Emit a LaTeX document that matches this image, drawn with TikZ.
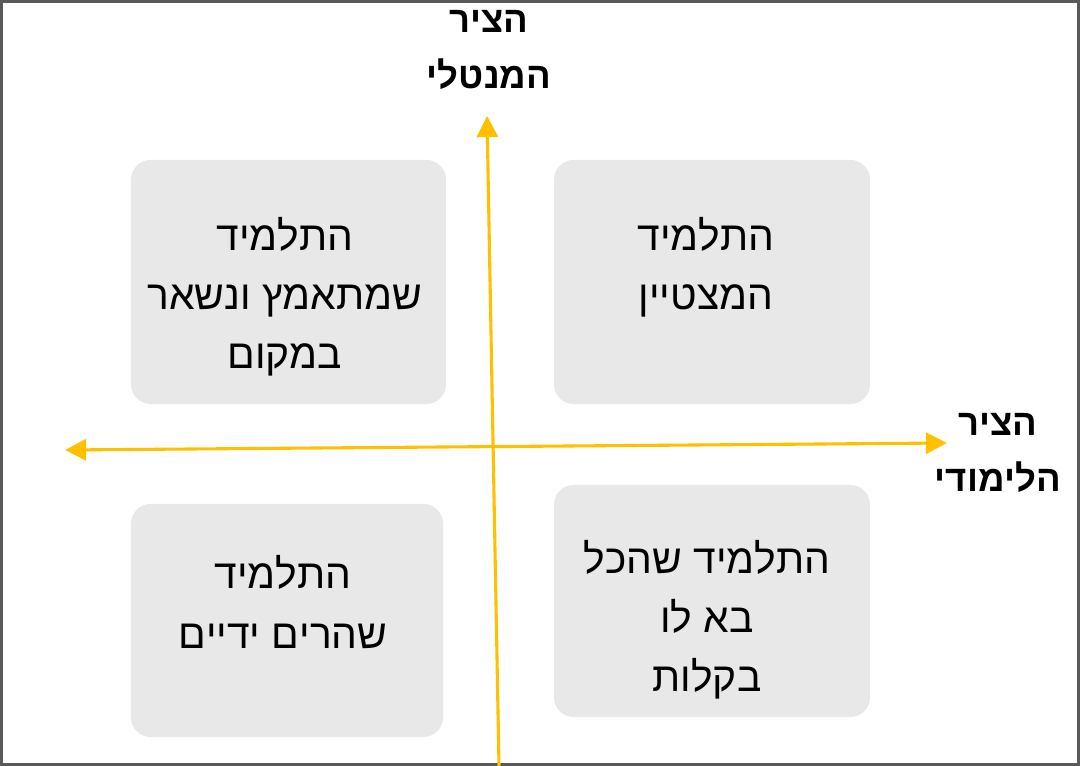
\documentclass[tikz,border=0pt]{standalone}
\usepackage{fontspec}
\setmainfont{Liberation Sans}
\TeXXeTstate=1
\usetikzlibrary{arrows.meta}
\newcommand{\heb}[1]{\beginR#1\endR}
\definecolor{axisyellow}{HTML}{FFC000}
\definecolor{cellgray}{HTML}{E8E8E8}
\definecolor{framegray}{HTML}{595959}

\begin{document}
\begin{tikzpicture}[x=0.025cm, y=-0.025cm]

	% --- Stili ---
	\tikzset{
		cell/.style={draw=none, fill=cellgray, rounded corners=14pt, inner sep=0pt},
		celltext/.style={align=center, inner sep=0pt, font=\fontsize{29}{42}\selectfont},
		axislabel/.style={align=center, inner sep=0pt, font=\fontsize{26}{40}\selectfont\bfseries},
		axis/.style={draw=axisyellow, line width=2.2pt, -{Triangle[length=15pt, width=15pt]}},
		bothaxis/.style={axis, {Triangle[length=15pt, width=15pt]}-{Triangle[length=15pt, width=15pt]}}
	}

	% --- Cornice ---
	\useasboundingbox (0,0) rectangle (1080,766);
	\draw[framegray, line width=2.2pt] (1.5,1.5) rectangle (1078.5,764.5);

	% --- Riquadri ---
	\node[cell, minimum width=7.875cm, minimum height=6.1cm] (topleft) at (288.5,282) {};
	\node[cell, minimum width=7.9cm, minimum height=6.1cm] (topright) at (712,282) {};
	\node[cell, minimum width=7.8cm, minimum height=5.825cm] (bottomleft) at (287,620.5) {};
	\node[cell, minimum width=7.9cm, minimum height=5.8cm] (bottomright) at (712,601) {};

	% --- Testi dei riquadri ---
	\node[celltext] (topleftText) at (285,297) {\heb{התלמיד}\\\heb{שמתאמץ ונשאר}\\\heb{במקום}};
	\node[celltext] (toprightText) at (706,267) {\heb{התלמיד}\\\heb{המצטיין}};
	\node[celltext] (bottomleftText) at (283,602) {\heb{התלמיד}\\\heb{שהרים ידיים}};
	\node[celltext] (bottomrightText) at (707,620) {\heb{התלמיד שהכל}\\\heb{בא לו}\\\heb{בקלות}};

	% --- Assi ---
	\coordinate (vBottom) at (499,766);
	\coordinate (vTop) at (487,116);
	\coordinate (hLeft) at (65,450);
	\coordinate (hRight) at (947,443);
	\draw[axis] (vBottom) -- (vTop);
	\draw[bothaxis] (hLeft) -- (hRight);

	% --- Etichette degli assi ---
	\node[axislabel] (mentalLabel) at (489,50) {\heb{הציר}\\\heb{המנטלי}};
	\node[axislabel] (studyLabel) at (998,453) {\heb{הציר}\\\heb{הלימודי}};

\end{tikzpicture}
\end{document}
